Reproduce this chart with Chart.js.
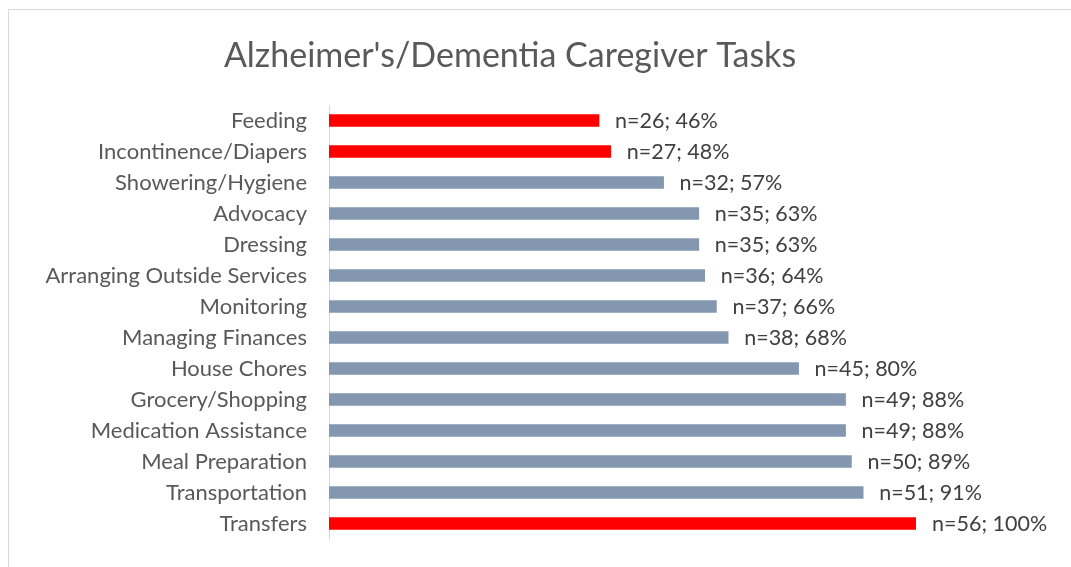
<!DOCTYPE html>
<html>
<head>
<meta charset="utf-8">
<script src="https://cdn.jsdelivr.net/npm/chart.js@4.4.0/dist/chart.umd.min.js"></script>
<style>
  html, body { margin: 0; padding: 0; background: #fff; }
  #wrap { position: relative; width: 1071px; height: 567px; overflow: hidden; }
  #frame { position: absolute; left: 8px; top: 9px; width: 1200px; height: 700px; border: 1px solid #d9d9d9; box-sizing: border-box; }
  canvas { position: absolute; left: 0; top: 0; }
</style>
</head>
<body>
<div id="wrap">
  <div id="frame"></div>
  <canvas id="c" width="1071" height="567"></canvas>
</div>
<script>
const titleText = "Alzheimer's/Dementia Caregiver Tasks";
const categories = ["Feeding", "Incontinence/Diapers", "Showering/Hygiene", "Advocacy", "Dressing",
  "Arranging Outside Services", "Monitoring", "Managing Finances", "House Chores", "Grocery/Shopping",
  "Medication Assistance", "Meal Preparation", "Transportation", "Transfers"];
const counts = [26, 27, 32, 35, 35, 36, 37, 38, 45, 49, 49, 50, 51, 56];
const percents = [46, 48, 57, 63, 63, 64, 66, 68, 80, 88, 88, 89, 91, 100];
const highlighted = ["Feeding", "Incontinence/Diapers", "Transfers"];

const FONT = "Lato, 'Open Sans', sans-serif";
const barColors = categories.map(c => highlighted.includes(c) ? "#ff0000" : "#8497b0");

const labelPlugin = {
  id: 'labels',
  afterDatasetsDraw(chart) {
    const ctx = chart.ctx;
    const meta = chart.getDatasetMeta(0);
    ctx.save();
    ctx.font = "21.5px " + FONT;
    ctx.fillStyle = "#404040";
    ctx.textBaseline = "middle";
    ctx.textAlign = "left";
    meta.data.forEach((bar, i) => {
      ctx.fillText("n=" + counts[i] + "; " + percents[i] + "%", bar.x + 16, bar.y + 1);
    });
    ctx.restore();
  }
};
const titlePlugin = {
  id: 'customTitle',
  afterDraw(chart) {
    const ctx = chart.ctx;
    ctx.save();
    ctx.font = "34px " + FONT;
    ctx.fillStyle = "#595959";
    ctx.textAlign = "center";
    ctx.textBaseline = "middle";
    ctx.fillText(titleText, 510, 56);
    ctx.restore();
  }
};

new Chart(document.getElementById('c'), {
  type: 'bar',
  data: {
    labels: categories,
    datasets: [{
      data: percents,
      backgroundColor: barColors,
      barThickness: 12,
      borderWidth: 0
    }]
  },
  options: {
    indexAxis: 'y',
    responsive: false,
    animation: false,
    layout: { padding: { top: 105, bottom: 28, left: 0, right: 155 } },
    plugins: { legend: { display: false }, tooltip: { enabled: false }, title: { display: false } },
    scales: {
      x: { display: false, min: 0, max: 100 },
      y: {
        afterFit(scale) { scale.width = 329; scale.paddingTop = 0; scale.paddingBottom = 0; },
        grid: { display: false, drawTicks: false },
        border: { display: true, color: "#d9d9d9", width: 1 },
        ticks: { font: { family: FONT, size: 22 }, color: "#595959", padding: 22, autoSkip: false }
      }
    }
  },
  plugins: [labelPlugin, titlePlugin]
});
</script>
</body>
</html>
